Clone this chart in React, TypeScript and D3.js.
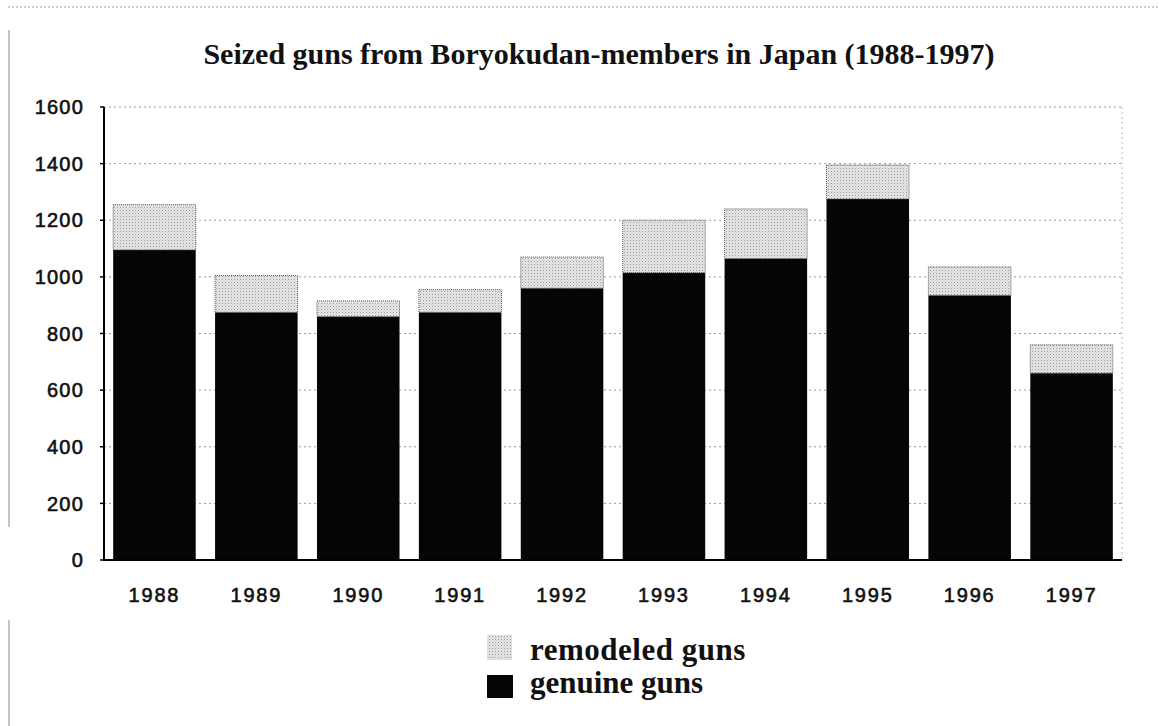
import React from 'react';
import * as d3 from 'd3';

const years = ['1988', '1989', '1990', '1991', '1992', '1993', '1994', '1995', '1996', '1997'];
const genuine = [1095, 875, 860, 875, 960, 1015, 1065, 1275, 935, 660];
const remodeled = [160, 130, 55, 80, 110, 185, 175, 120, 100, 100];
const yTicks = [0, 200, 400, 600, 800, 1000, 1200, 1400, 1600];
const seriesKeys = ['genuine', 'remodeled'];
const legendLabels = ['remodeled guns', 'genuine guns'];
const titleText = 'Seized guns from Boryokudan-members in Japan (1988-1997)';

const App = () => {
  const width = 1159;
  const height = 726;
  const margin = { top: 107, right: 37, bottom: 166, left: 104 };
  const serif = "'Liberation Serif', 'Times New Roman', serif";
  const sans = "'Liberation Sans', Arial, sans-serif";

  const rows = years.map((y, i) => ({ year: y, genuine: genuine[i], remodeled: remodeled[i] }));
  const stacked = d3.stack<any>().keys(seriesKeys)(rows);

  const xScale = d3
    .scaleBand()
    .domain(years)
    .range([margin.left, width - margin.right])
    .paddingInner(0.19)
    .paddingOuter(0.09);

  const yScale = d3
    .scaleLinear()
    .domain([0, 1600])
    .range([height - margin.bottom, margin.top]);

  const x0 = margin.left;
  const x1 = width - margin.right;
  const yBase = yScale(0);

  return (
    <svg
      width={width}
      height={height}
      style={{ position: 'absolute', left: 0, top: 0, background: '#fff' }}
    >
      <defs>
        <pattern id='dots' width='3' height='3' patternUnits='userSpaceOnUse'>
          <rect width='3' height='3' fill='#e6e6e6' />
          <rect x='0' y='0' width='1' height='1' fill='#9a9a9a' />
          <rect x='1.5' y='1.5' width='1' height='1' fill='#c4c4c4' />
        </pattern>
      </defs>

      {/* scanned page frame */}
      <line x1={8} x2={width} y1={7} y2={7} stroke='#999' strokeDasharray='2,2' />
      <line x1={9} x2={9} y1={30} y2={527} stroke='#888' />
      <line x1={9} x2={9} y1={620} y2={height} stroke='#888' />

      <text
        x={599}
        y={64}
        textAnchor='middle'
        fontFamily={serif}
        fontWeight='bold'
        fontSize={30}
        fill='#111'
      >
        {titleText}
      </text>

      {/* grid */}
      {yTicks.filter(t => t > 0).map(t => (
        <line
          key={`grid-${t}`}
          x1={x0}
          x2={x1}
          y1={yScale(t)}
          y2={yScale(t)}
          stroke='#999'
          strokeDasharray='2,3'
        />
      ))}
      <line x1={x1} x2={x1} y1={yScale(1600)} y2={yBase} stroke='#bbb' strokeDasharray='2,3' />

      {/* bars */}
      {stacked.map(layer =>
        layer.map((d, i) => (
          <rect
            key={`${layer.key}-${i}`}
            x={xScale(years[i])}
            y={yScale(d[1])}
            width={xScale.bandwidth()}
            height={yScale(d[0]) - yScale(d[1])}
            fill={layer.key === 'genuine' ? '#050505' : 'url(#dots)'}
            stroke={layer.key === 'genuine' ? 'none' : '#555'}
            strokeDasharray={layer.key === 'genuine' ? undefined : '1,1'}
          />
        ))
      )}

      {/* axes */}
      <line x1={x0} x2={x0} y1={yScale(1600)} y2={yBase + 1} stroke='#000' strokeWidth={2} />
      <line x1={x0 - 1} x2={x1} y1={yBase} y2={yBase} stroke='#000' strokeWidth={2} />
      {yTicks.map(t => (
        <g key={`yt-${t}`}>
          <line x1={x0 - 4} x2={x0} y1={yScale(t)} y2={yScale(t)} stroke='#000' strokeWidth={1.5} />
          <text
            x={84}
            y={yScale(t)}
            dy='0.36em'
            textAnchor='end'
            fontFamily={sans}
            fontSize={20}
            letterSpacing={1.2}
            fill='#111'
            stroke='#111'
            strokeWidth={0.6}
          >
            {t}
          </text>
        </g>
      ))}
      {years.map(y => (
        <text
          key={`xt-${y}`}
          x={(xScale(y) || 0) + xScale.bandwidth() / 2}
          y={602}
          textAnchor='middle'
          fontFamily={sans}
          fontSize={20}
          letterSpacing={1.8}
          fill='#111'
          stroke='#111'
          strokeWidth={0.6}
        >
          {y}
        </text>
      ))}

      {/* legend */}
      <rect x={487} y={635} width={25} height={25} fill='url(#dots)' />
      <rect x={487} y={675} width={26} height={23} fill='#050505' />
      <text x={530} y={660} fontFamily={serif} fontWeight='bold' fontSize={31} letterSpacing={0.5} fill='#111'>
        {legendLabels[0]}
      </text>
      <text x={530} y={693} fontFamily={serif} fontWeight='bold' fontSize={31} fill='#111'>
        {legendLabels[1]}
      </text>
    </svg>
  );
};

export default App;
